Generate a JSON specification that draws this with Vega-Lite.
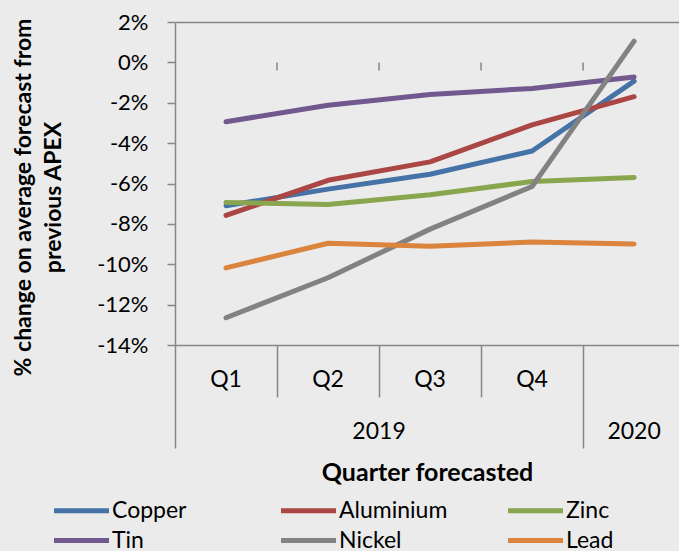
{
  "$schema": "https://vega.github.io/schema/vega-lite/v6.json",
  "width": 504,
  "height": 323,
  "autosize": "none",
  "padding": {"left": 175, "top": 22, "right": 0, "bottom": 206},
  "background": "#EBEBEB",
  "config": {"view": {"stroke": null}, "font": "Lato"},
  "datasets": {
    "series": [
      {"metal": "Copper", "period": "Q1 2019", "q": 1, "v": -7.10},
      {"metal": "Copper", "period": "Q2 2019", "q": 2, "v": -6.28},
      {"metal": "Copper", "period": "Q3 2019", "q": 3, "v": -5.54},
      {"metal": "Copper", "period": "Q4 2019", "q": 4, "v": -4.39},
      {"metal": "Copper", "period": "2020", "q": 5, "v": -0.93},
      {"metal": "Aluminium", "period": "Q1 2019", "q": 1, "v": -7.58},
      {"metal": "Aluminium", "period": "Q2 2019", "q": 2, "v": -5.84},
      {"metal": "Aluminium", "period": "Q3 2019", "q": 3, "v": -4.93},
      {"metal": "Aluminium", "period": "Q4 2019", "q": 4, "v": -3.10},
      {"metal": "Aluminium", "period": "2020", "q": 5, "v": -1.70},
      {"metal": "Zinc", "period": "Q1 2019", "q": 1, "v": -6.94},
      {"metal": "Zinc", "period": "Q2 2019", "q": 2, "v": -7.04},
      {"metal": "Zinc", "period": "Q3 2019", "q": 3, "v": -6.56},
      {"metal": "Zinc", "period": "Q4 2019", "q": 4, "v": -5.90},
      {"metal": "Zinc", "period": "2020", "q": 5, "v": -5.70},
      {"metal": "Tin", "period": "Q1 2019", "q": 1, "v": -2.94},
      {"metal": "Tin", "period": "Q2 2019", "q": 2, "v": -2.12},
      {"metal": "Tin", "period": "Q3 2019", "q": 3, "v": -1.59},
      {"metal": "Tin", "period": "Q4 2019", "q": 4, "v": -1.29},
      {"metal": "Tin", "period": "2020", "q": 5, "v": -0.72},
      {"metal": "Nickel", "period": "Q1 2019", "q": 1, "v": -12.65},
      {"metal": "Nickel", "period": "Q2 2019", "q": 2, "v": -10.67},
      {"metal": "Nickel", "period": "Q3 2019", "q": 3, "v": -8.26},
      {"metal": "Nickel", "period": "Q4 2019", "q": 4, "v": -6.15},
      {"metal": "Nickel", "period": "2020", "q": 5, "v": 1.05},
      {"metal": "Lead", "period": "Q1 2019", "q": 1, "v": -10.18},
      {"metal": "Lead", "period": "Q2 2019", "q": 2, "v": -8.96},
      {"metal": "Lead", "period": "Q3 2019", "q": 3, "v": -9.11},
      {"metal": "Lead", "period": "Q4 2019", "q": 4, "v": -8.90},
      {"metal": "Lead", "period": "2020", "q": 5, "v": -9.00}
    ],
    "bounds": [{"b": 1.5}, {"b": 2.5}, {"b": 3.5}, {"b": 4.5}],
    "cats": [
      {"lab": "Q1", "x": 1, "row": "quarter"},
      {"lab": "Q2", "x": 2, "row": "quarter"},
      {"lab": "Q3", "x": 3, "row": "quarter"},
      {"lab": "Q4", "x": 4, "row": "quarter"},
      {"lab": "2019", "x": 2.5, "row": "year"},
      {"lab": "2020", "x": 5, "row": "year"}
    ]
  },
  "layer": [
    {
      "mark": {"type": "rule", "color": "#878787", "strokeWidth": 1.5},
      "encoding": {"y": {"datum": 0, "type": "quantitative"}}
    },
    {
      "data": {"name": "bounds"},
      "mark": {"type": "rule", "color": "#878787", "strokeWidth": 1.5},
      "encoding": {
        "x": {"field": "b", "type": "quantitative", "title": "Quarter forecasted"},
        "y": {"datum": 0, "type": "quantitative"},
        "y2": {"datum": -0.4}
      }
    },
    {
      "data": {"name": "series"},
      "mark": {"type": "line", "strokeWidth": 5, "strokeCap": "round", "strokeJoin": "round"},
      "encoding": {
        "x": {
          "field": "q", "type": "quantitative", "title": "Quarter forecasted",
          "scale": {"domain": [0.5, 5.44], "nice": false, "zero": false},
          "axis": {
            "values": [0.5, 1.5, 2.5, 3.5, 4.5],
            "labels": false, "grid": false,
            "domainColor": "#878787", "domainWidth": 1.5,
            "tickColor": "#878787", "tickWidth": 1.5,
            "tickSize": {"condition": {"test": "datum.value == 0.5 || datum.value == 4.5", "value": 103}, "value": 52},
            "titleFont": "Lato", "titleFontSize": 25, "titleFontWeight": "bold", "titleColor": "#000",
            "titleBaseline": "middle", "titleY": 127
          }
        },
        "y": {
          "field": "v", "type": "quantitative",
          "title": ["% change on average forecast from", "previous  APEX"],
          "scale": {"domain": [-14, 2], "nice": false, "zero": false},
          "axis": {
            "values": [-14, -12, -10, -8, -6, -4, -2, 0, 2],
            "labelExpr": "datum.value + '%'",
            "labelFont": "Lato", "labelFontSize": 22, "labelColor": "#000", "labelPadding": 19,
            "domainColor": "#878787", "domainWidth": 1.5,
            "tickColor": "#878787", "tickWidth": 1.5, "tickSize": 8,
            "grid": true, "gridColor": "#878787", "gridWidth": 1.5,
            "gridOpacity": {"condition": {"test": "datum.value == 2", "value": 1}, "value": 0},
            "titleFont": "Lato", "titleFontSize": 23, "titleFontWeight": "bold", "titleColor": "#000",
            "titleAngle": 270, "titleAlign": "center", "titleBaseline": "top", "titleLineHeight": 30,
            "titleX": -163, "titleY": 175
          }
        },
        "color": {
          "field": "metal", "type": "nominal",
          "scale": {
            "domain": ["Copper", "Aluminium", "Zinc", "Tin", "Nickel", "Lead"],
            "range": ["#4572A7", "#AA4643", "#89A54E", "#71588F", "#828282", "#DB843D"]
          },
          "legend": {
            "orient": "none", "legendX": -105, "legendY": 477,
            "direction": "horizontal", "columns": 3, "gridAlign": "all",
            "columnPadding": 50, "rowPadding": 6,
            "symbolType": "M-5,0H5", "symbolSize": 121, "symbolStrokeWidth": 5,
            "labelFont": "Lato", "labelFontSize": 23, "labelColor": "#000", "labelOffset": 19,
            "title": null
          }
        }
      }
    },
    {
      "data": {"name": "cats"},
      "transform": [{"filter": "datum.row == 'quarter'"}],
      "mark": {"type": "text", "fontSize": 23, "font": "Lato", "color": "#000", "baseline": "middle", "align": "center", "dy": 35},
      "encoding": {
        "x": {"field": "x", "type": "quantitative", "title": "Quarter forecasted"},
        "y": {"datum": -14, "type": "quantitative"},
        "text": {"field": "lab"}
      }
    },
    {
      "data": {"name": "cats"},
      "transform": [{"filter": "datum.row == 'year'"}],
      "mark": {"type": "text", "fontSize": 23, "font": "Lato", "color": "#000", "baseline": "middle", "align": "center", "dy": 87},
      "encoding": {
        "x": {"field": "x", "type": "quantitative", "title": "Quarter forecasted"},
        "y": {"datum": -14, "type": "quantitative"},
        "text": {"field": "lab"}
      }
    }
  ]
}
